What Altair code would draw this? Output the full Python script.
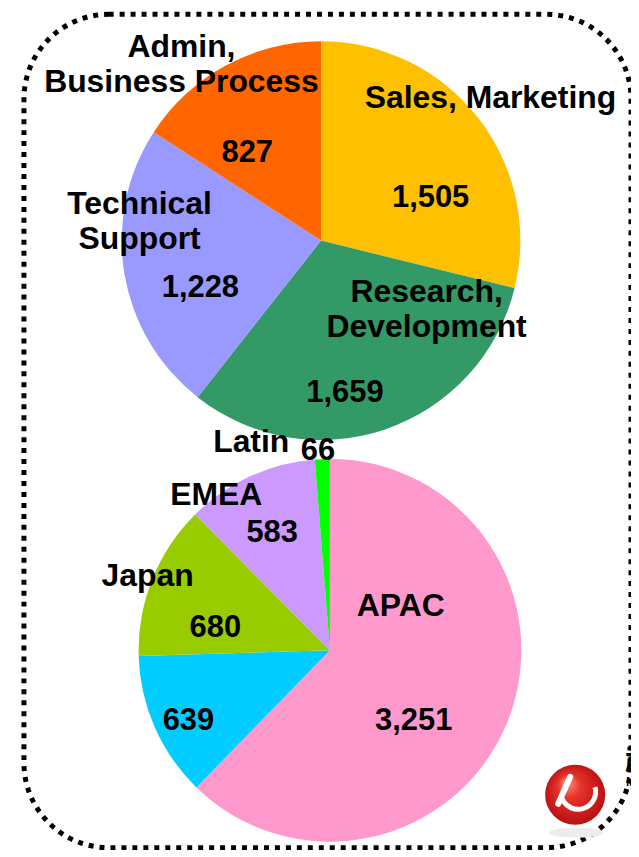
import altair as alt
import pandas as pd

# ---------------- data ----------------
top_categories = ["Sales, Marketing", "Research, Development", "Technical Support", "Admin, Business Process"]
top_names = ["Sales, Marketing", "Research,\nDevelopment", "Technical\nSupport", "Admin,\nBusiness Process"]
top_values = [1505, 1659, 1228, 827]
top_colors = ["#FFC000", "#339966", "#9999FF", "#FF6600"]

bottom_categories = ["APAC", "Region 2", "Japan", "EMEA", "Latin"]
bottom_names = ["APAC", "", "Japan", "EMEA", "Latin"]
bottom_values = [3251, 639, 680, 583, 66]
bottom_colors = ["#FF99CC", "#00CCFF", "#99CC00", "#CC99FF", "#00FF00"]

# ---------------- layout (view pixels) ----------------
OX, OY = 24, 13            # view origin on the page
TOP_C = (322 - OX, 240 - OY)
TOP_R = 200
BOT_C = (331 - OX, 651 - OY)
BOT_R = 192

# label anchor points (page pixels, first line), in the same order as the categories
top_name_pos = [(492, 97), (428, 292), (140, 203), (182, 46)]
top_value_pos = [(432, 197), (346, 393), (201, 288), (248, 152)]
bottom_name_pos = [(402, 607), (0, 0), (148, 577), (217, 495), (252, 442)]
bottom_value_pos = [(415, 722), (189, 722), (216, 629), (273, 533), (319, 451)]

FONT = "Liberation Sans"
FS_NAME = 32
FS_VALUE = 31


def pie_df(cats, names, vals, name_pos, value_pos):
    return pd.DataFrame({
        "category": cats,
        "name": names,
        "value": vals,
        "order": list(range(len(cats))),
        "nx": [p[0] - OX for p in name_pos],
        "ny": [p[1] - OY for p in name_pos],
        "vx": [p[0] - OX for p in value_pos],
        "vy": [p[1] - OY for p in value_pos],
    })


def pie_layers(df, cats, colors, center, r):
    base = alt.Chart(df)
    arc = base.mark_arc(outerRadius=r, stroke=None).encode(
        theta=alt.Theta("value:Q", stack=True),
        order=alt.Order("order:Q"),
        color=alt.Color("category:N", scale=alt.Scale(domain=cats, range=colors), legend=None),
        x=alt.value(center[0]),
        y=alt.value(center[1]),
    )
    names = base.transform_filter(alt.datum.name != "").mark_text(
        font=FONT, fontSize=FS_NAME, fontWeight="bold", color="black",
        align="center", baseline="middle", lineBreak="\n", lineHeight=35,
    ).encode(
        x=alt.X("nx:Q", scale=None),
        y=alt.Y("ny:Q", scale=None),
        text="name:N",
    )
    values = base.mark_text(
        font=FONT, fontSize=FS_VALUE, fontWeight="bold", color="black",
        align="center", baseline="middle",
    ).encode(
        x=alt.X("vx:Q", scale=None),
        y=alt.Y("vy:Q", scale=None),
        text=alt.Text("value:Q", format=","),
    )
    return alt.layer(arc, names, values).resolve_scale(color="independent", theta="independent")


top_df = pie_df(top_categories, top_names, top_values, top_name_pos, top_value_pos)
bot_df = pie_df(bottom_categories, bottom_names, bottom_values, bottom_name_pos, bottom_value_pos)

top_pie = pie_layers(top_df, top_categories, top_colors, TOP_C, TOP_R)
bottom_pie = pie_layers(bot_df, bottom_categories, bottom_colors, BOT_C, BOT_R)

# ---------------- logo (decoration) ----------------
one = pd.DataFrame({"k": [0]})
ELLIPSE = "M-1,0 A1,0.18 0 1,0 1,0 A1,0.18 0 1,0 -1,0 Z"
shadow = alt.Chart(one).mark_point(
    shape=ELLIPSE, size=3000, filled=True, color="#ECECEC", opacity=1,
).encode(x=alt.value(578 - OX), y=alt.value(834 - OY))
ball = alt.Chart(one).mark_circle(
    size=3630, opacity=1,
    fill=alt.RadialGradient(
        gradient="radial", x1=0.35, y1=0.28, r1=0.0, x2=0.5, y2=0.5, r2=0.55,
        stops=[alt.GradientStop(offset=0, color="#FF9A8A"),
               alt.GradientStop(offset=0.35, color="#E8322A"),
               alt.GradientStop(offset=1, color="#B30D12")],
    ),
).encode(x=alt.value(577 - OX), y=alt.value(796 - OY))
swirl = alt.Chart(one).mark_arc(
    innerRadius=15, outerRadius=20, theta=1.3, theta2=4.3, color="white",
).encode(x=alt.value(580 - OX), y=alt.value(793 - OY))
stem = alt.Chart(one).mark_rule(color="white", strokeWidth=6, strokeCap="round").encode(
    x=alt.value(560 - OX), y=alt.value(805 - OY), x2=alt.value(572 - OX), y2=alt.value(778 - OY))
brand = alt.Chart(one).mark_text(
    text="趋势科技", font="Noto Sans CJK SC", fontSize=30, fontWeight="bold",
    align="left", baseline="alphabetic", color="black",
).encode(x=alt.value(627 - OX), y=alt.value(770 - OY))
brand2 = alt.Chart(one).mark_text(
    text="MICRO", font=FONT, fontSize=12, fontWeight="bold",
    align="left", baseline="alphabetic", color="black",
).encode(x=alt.value(628 - OX), y=alt.value(787 - OY))

chart = alt.layer(top_pie, bottom_pie, shadow, ball, swirl, stem, brand, brand2).resolve_scale(
    color="independent", theta="independent"
).properties(
    width=609, height=836,
    padding={"left": 16, "top": 5, "right": 0, "bottom": 1},
    autosize=alt.AutoSizeParams(type="none"),
).configure_view(
    stroke="black", strokeWidth=5, strokeDash=[5, 6], cornerRadius=85,
)

chart.save("out.html", embed_options={"renderer": "svg", "actions": False})
